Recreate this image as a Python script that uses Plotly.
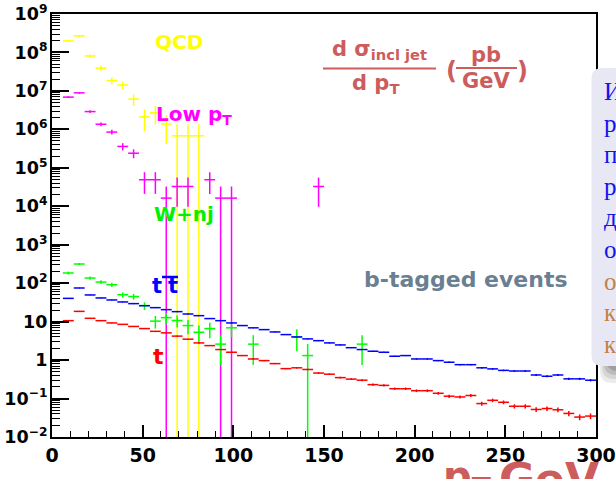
import plotly.graph_objects as go

# Canvas and plot-frame geometry (pixels)
W, H = 616, 479
ML, MR, MT, MB = 52, 20, 14, 42

HALF_BIN = 3.0  # histogram bins are 6 GeV wide

# ---- QCD ----
qcd_pt = [9, 15, 21, 27, 33, 39, 45, 51, 57, 63, 69, 75, 81]
qcd_val = [2.0e8, 2.7e8, 8.1e7, 3.9e7, 1.86e7, 1.43e7, 6.1e6, 2.1e6, 2.7e6,
           1.38e6, 6.8e5, 6.8e5, 6.8e5]
qcd_err = [1.2e7, 1.4e7, 7.4e6, 5.2e6, 3.6e6, 3.1e6, 2.0e6, 1.2e6, 1.35e6,
           0.96e6, 6.8e5, 6.8e5, 6.8e5]

# ---- Low pT ----
lowpt_pt = [9, 15, 21, 27, 33, 39, 45, 51, 57, 63, 69, 75, 87, 93, 99, 147]
lowpt_val = [6.9e6, 8.9e6, 2.9e6, 1.36e6, 8.5e5, 3.6e5, 2.4e5, 4.9e4, 4.9e4,
             1.63e4, 3.27e4, 3.27e4, 4.9e4, 1.63e4, 1.63e4, 3.27e4]
lowpt_err = [3.4e5, 3.8e5, 2.2e5, 1.5e5, 1.2e5, 7.7e4, 6.2e4, 2.8e4, 2.8e4,
             1.63e4, 2.3e4, 2.3e4, 2.8e4, 1.63e4, 1.63e4, 2.3e4]

# ---- W + n jets ----
wnj_pt = [9, 15, 21, 27, 33, 39, 45, 51, 57, 63, 69, 75, 81, 87, 93, 99,
          111, 135, 141, 171]
wnj_val = [184, 315, 136, 107, 91, 50, 45, 26, 10.3, 12.7, 10.7, 7.9, 5.3,
           6.6, 2.6, 6.9, 2.6, 4.0, 1.31, 2.6]
wnj_err = [15.5, 20, 13, 12, 11, 8, 7.7, 5.8, 3.7, 4.1, 3.7, 3.2, 2.6, 2.9,
           1.85, 3.0, 1.85, 2.3, 1.31, 1.85]

# ---- full 6..300 GeV binning for the top samples ----
pt_bins = list(range(9, 300, 6))

ttbar_val = [40.3, 75, 49.4, 41.3, 36.6, 32.5, 29.4, 26, 23.1, 20.5,
             18.2, 15.8, 14.3, 12, 10.6, 9.25, 7.9, 6.9, 6.2, 5.4,
             4.6, 4.0, 3.56, 3.2, 2.8, 2.48, 2.1, 1.88, 1.7, 1.6,
             1.26, 1.31, 1.07, 1.07, 0.97, 0.88, 0.76, 0.76, 0.63, 0.59,
             0.54, 0.52, 0.52, 0.41, 0.38, 0.41, 0.325, 0.325, 0.30]
ttbar_err = [0.23, 0.31, 0.25, 0.23, 0.22, 0.21, 0.2, 0.18, 0.17, 0.16,
             0.15, 0.14, 0.14, 0.12, 0.12, 0.11, 0.1, 0.095, 0.09, 0.084,
             0.077, 0.072, 0.068, 0.064, 0.06, 0.057, 0.052, 0.049, 0.047, 0.046,
             0.04, 0.041, 0.037, 0.037, 0.036, 0.034, 0.031, 0.031, 0.029, 0.028,
             0.026, 0.026, 0.026, 0.023, 0.022, 0.023, 0.021, 0.021, 0.02]

top_val = [10.6, 18.5, 12.2, 10.6, 9.25, 8.5, 7.5, 6.6, 5.6, 5.1,
           4.2, 3.5, 2.8, 2.38, 1.88, 1.6, 1.31, 1.07, 0.97, 0.81,
           0.6, 0.63, 0.57, 0.46, 0.43, 0.35, 0.32, 0.30, 0.23, 0.22,
           0.18, 0.18, 0.16, 0.16, 0.137, 0.115, 0.11, 0.12, 0.074, 0.09,
           0.08, 0.063, 0.063, 0.052, 0.055, 0.051, 0.041, 0.033, 0.035]
top_err = [0.1, 0.14, 0.11, 0.1, 0.096, 0.092, 0.087, 0.081, 0.075, 0.071,
           0.065, 0.059, 0.053, 0.049, 0.043, 0.04, 0.036, 0.033, 0.031, 0.028,
           0.024, 0.025, 0.024, 0.021, 0.021, 0.019, 0.018, 0.017, 0.015, 0.015,
           0.013, 0.013, 0.013, 0.013, 0.012, 0.011, 0.01, 0.011, 0.0086, 0.0095,
           0.009, 0.008, 0.008, 0.0072, 0.0074, 0.0071, 0.0064, 0.0057, 0.0059]

series = [
    ("QCD", qcd_pt, qcd_val, qcd_err, "#ffff00"),
    ("Low pT", lowpt_pt, lowpt_val, lowpt_err, "#ff00ff"),
    ("W+nj", wnj_pt, wnj_val, wnj_err, "#00ff00"),
    ("ttbar", pt_bins, ttbar_val, ttbar_err, "#0000ff"),
    ("t", pt_bins, top_val, top_err, "#ff0000"),
]

fig = go.Figure()
for name, xs, ys, es, col in series:
    fig.add_trace(go.Scatter(
        x=xs, y=ys, name=name, mode="markers",
        marker=dict(size=1, color=col),
        error_x=dict(type="constant", value=HALF_BIN, color=col,
                     thickness=1.5, width=0),
        error_y=dict(type="data", array=es, symmetric=True, color=col,
                     thickness=1.5, width=0),
        showlegend=False, hoverinfo="skip",
    ))


def pap(xp, yp):
    """Pixel position on the canvas -> paper coordinates."""
    return (xp - ML) / (W - ML - MR), (H - MB - yp) / (H - MT - MB)


BOLD = "DejaVu Sans"
RED_TXT = "rgb(205,92,92)"
annotations = []
shapes = []


def label(text, xp, yp, color, size, xanchor="left", yanchor="middle",
          family=BOLD, bold=True):
    x, y = pap(xp, yp)
    annotations.append(dict(
        text=f"<b>{text}</b>" if bold else text, x=x, y=y,
        xref="paper", yref="paper", xanchor=xanchor, yanchor=yanchor,
        showarrow=False, font=dict(family=family, size=size, color=color)))


def hline(x0p, x1p, yp, color, width=2):
    x0, y = pap(x0p, yp)
    x1, _ = pap(x1p, yp)
    shapes.append(dict(type="line", xref="paper", yref="paper",
                       x0=x0, x1=x1, y0=y, y1=y,
                       line=dict(color=color, width=width), layer="above"))


# Sample labels
label("QCD", 153, 42, "#ffff00", 20)
label("Low p<sub>T</sub>", 154, 115, "#ff00ff", 20)
label("W+nj", 152, 214, "#00f000", 20)
label("t", 157, 286, "#0000ff", 21, xanchor="center")
label("t", 173, 286, "#0000ff", 21, xanchor="center")
hline(162, 178, 277, "#0000ff", 2.5)
label("t", 158.5, 356, "#ff0000", 22, xanchor="center")
label("b-tagged events", 570, 279, "rgb(105,128,146)", 22, xanchor="right")

# Cross-section formula in the upper right
label("d σ<sub>incl jet</sub>", 379, 50, RED_TXT, 21, xanchor="center")
hline(323, 436, 68.5, RED_TXT, 2)
label("d p<sub>T</sub>", 375, 84, RED_TXT, 21, xanchor="center")
label("(", 451, 71, RED_TXT, 24, xanchor="center")
label("pb", 486, 55, RED_TXT, 21, xanchor="center")
hline(456, 517, 68, RED_TXT, 2)
label("GeV", 486, 81, RED_TXT, 21, xanchor="center")
label(")", 522, 71, RED_TXT, 24, xanchor="center")

# Axis title (its lower half runs off the bottom edge)
label("p<sub>T</sub>", 441, 451, RED_TXT, 40, yanchor="top")
label("GeV", 497, 451.5, RED_TXT, 44, yanchor="top")


# Side text panel with drop shadow
def rounded_rect(x0p, y0p, x1p, y1p, r):
    cx = lambda v: (v - ML) / (W - ML - MR)
    cy = lambda v: (H - MB - v) / (H - MT - MB)
    return (f"M {cx(x0p + r)},{cy(y0p)} L {cx(x1p - r)},{cy(y0p)} "
            f"Q {cx(x1p)},{cy(y0p)} {cx(x1p)},{cy(y0p + r)} "
            f"L {cx(x1p)},{cy(y1p - r)} Q {cx(x1p)},{cy(y1p)} {cx(x1p - r)},{cy(y1p)} "
            f"L {cx(x0p + r)},{cy(y1p)} Q {cx(x0p)},{cy(y1p)} {cx(x0p)},{cy(y1p - r)} "
            f"L {cx(x0p)},{cy(y0p + r)} Q {cx(x0p)},{cy(y0p)} {cx(x0p + r)},{cy(y0p)} Z")


for k, op in enumerate([0.10, 0.12, 0.16, 0.22]):
    shapes.append(dict(type="path", xref="paper", yref="paper",
                       path=rounded_rect(600 + 2 * k, 80, 660, 383 - 4 * k, 12),
                       fillcolor=f"rgba(60,60,60,{op})", line=dict(width=0),
                       layer="above"))
shapes.append(dict(type="path", xref="paper", yref="paper",
                   path=rounded_rect(591.5, 68, 660, 366, 11),
                   fillcolor="rgb(232,232,245)", line=dict(width=0),
                   layer="above"))

panel_letters = ["И", "р", "п", "р", "д", "о", "о", "к", "к"]
panel_colors = ["rgb(20,20,235)"] * 6 + ["rgb(196,128,72)"] * 3
for k, (ch, col) in enumerate(zip(panel_letters, panel_colors)):
    label(ch, 601.5, 100 + 31.6 * k - 8.5, col, 25, family="Liberation Serif",
          bold=False)

fig.update_layout(
    width=W, height=H,
    margin=dict(l=ML, r=MR, t=MT, b=MB, pad=0, autoexpand=False),
    paper_bgcolor="white", plot_bgcolor="white",
    annotations=annotations, shapes=shapes,
    xaxis=dict(
        range=[0, 300], dtick=50, tick0=0, automargin=False,
        showgrid=False, zeroline=False,
        showline=True, linecolor="black", linewidth=1.5, mirror=True,
        ticks="inside", ticklen=12, tickwidth=1.5, tickcolor="black",
        minor=dict(dtick=10, ticks="inside", ticklen=6, tickwidth=1.2,
                   tickcolor="black"),
        tickfont=dict(family=BOLD, size=19, color="black", weight="bold"),
    ),
    yaxis=dict(
        type="log", range=[-2, 9], dtick=1, exponentformat="power",
        automargin=False,
        showgrid=False, zeroline=False,
        showline=True, linecolor="black", linewidth=1.5, mirror=True,
        ticks="inside", ticklen=17, tickwidth=1.5, tickcolor="black",
        minor=dict(dtick="D1", ticks="inside", ticklen=8, tickwidth=1,
                   tickcolor="black"),
        tickfont=dict(family=BOLD, size=14, color="black", weight="bold"),
    ),
)

fig.write_html("out.html")
